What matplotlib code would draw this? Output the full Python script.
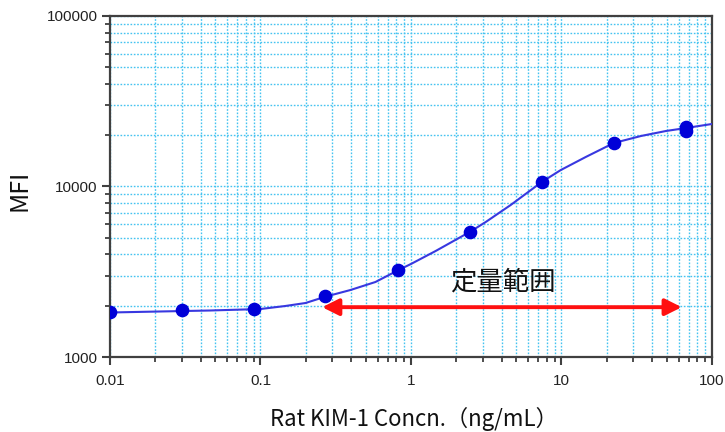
import numpy as np
import matplotlib
matplotlib.use("Agg")
import matplotlib.pyplot as plt
from matplotlib.ticker import LogLocator, FuncFormatter, NullFormatter

plt.rcParams['font.family'] = ['Noto Sans CJK JP', 'DejaVu Sans']

# standard points (concentration ng/mL, MFI)
conc = [0.01, 0.03, 0.09, 0.27, 0.82, 2.47, 7.4, 22.3, 67.0, 67.0]
mfi = [1830, 1875, 1915, 2285, 3250, 5430, 10650, 18050, 21200, 22350]

# fitted curve
curve_x = [0.01, 0.0215, 0.0464, 0.1, 0.146, 0.199, 0.27, 0.396, 0.581, 0.827,
           1.0, 1.458, 2.14, 2.49, 3.14, 4.6, 7.4, 9.91, 14.5, 22.3, 33.8,
           49.5, 67.3, 100.0]
curve_y = [1824, 1849, 1874, 1912, 1991, 2073, 2258, 2471, 2754, 3237,
           3512, 4184, 5056, 5446, 6192, 7790, 10627, 12497, 14894, 17995, 19783,
           21160, 22030, 23260]

# quantification range arrow
range_lo, range_hi, range_y = 0.257, 63.0, 1960
range_label = "定量範囲"

fig = plt.figure(figsize=(7.25, 4.32), dpi=100)
ax = fig.add_axes([0.1517, 0.1736, 0.8303, 0.7894])

ax.set_xscale('log')
ax.set_yscale('log')
ax.set_xlim(0.01, 100)
ax.set_ylim(1000, 100000)

grid_col = '#45c3f0'
ax.grid(True, which='both', color=grid_col, linestyle=(0, (1.2, 1.2)), linewidth=1.0)
ax.set_axisbelow(True)

# curve and points
ax.plot(curve_x, curve_y, color='#3838e0', linewidth=1.5, zorder=3)
ax.plot(conc, mfi, 'o', color='#0000d8', markersize=8.8, zorder=4)

# double arrow
ax.annotate('', xy=(range_lo, range_y), xytext=(range_hi, range_y),
            arrowprops=dict(arrowstyle='<|-|>', color='#ff1010', lw=2.8,
                            mutation_scale=25, shrinkA=0, shrinkB=0),
            zorder=5)
ax.text(np.sqrt(range_lo * range_hi) * 1.02, 2764, range_label,
        fontsize=19, ha='center', va='center', color='#111111')

# axes styling
for s in ax.spines.values():
    s.set_color('#404040')
    s.set_linewidth(1.6)

ax.xaxis.set_major_locator(LogLocator(base=10))
ax.yaxis.set_major_locator(LogLocator(base=10))
ax.xaxis.set_minor_locator(LogLocator(base=10, subs=np.arange(2, 10)))
ax.yaxis.set_minor_locator(LogLocator(base=10, subs=np.arange(2, 10)))
ax.xaxis.set_major_formatter(FuncFormatter(lambda v, p: f'{v:g}'))
ax.yaxis.set_major_formatter(FuncFormatter(lambda v, p: f'{v:.0f}'))
ax.xaxis.set_minor_formatter(NullFormatter())
ax.yaxis.set_minor_formatter(NullFormatter())

ax.tick_params(which='major', direction='out', length=6, width=1.5,
               color='#404040', labelsize=11, labelcolor='#222222')
ax.tick_params(which='minor', direction='out', length=3.5, width=1.3,
               color='#404040')
ax.tick_params(axis='x', which='major', pad=6)
ax.tick_params(axis='y', which='major', pad=3)
for lab in ax.get_xticklabels() + ax.get_yticklabels():
    lab.set_family(['Liberation Sans', 'DejaVu Sans'])

ax.set_xlabel('Rat KIM-1 Concn.（ng/mL）', fontsize=16, color='#111111')
ax.xaxis.set_label_coords(0.505, -0.148)
ax.set_ylabel('MFI', fontsize=18, color='#111111')
ax.yaxis.set_label_coords(-0.128, 0.49)

fig.savefig('out.png', dpi=100)
